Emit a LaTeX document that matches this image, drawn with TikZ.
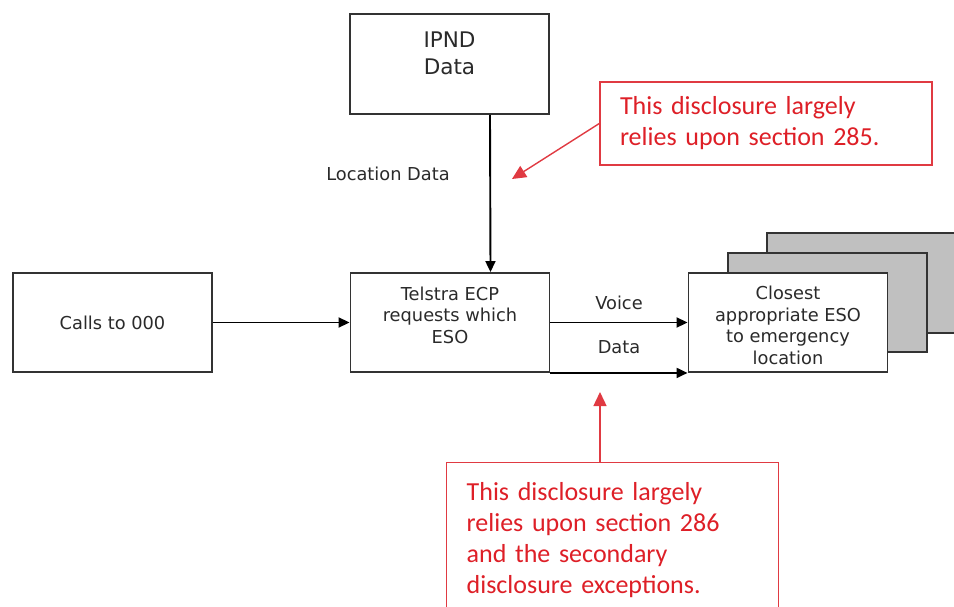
\documentclass[tikz,border=0pt]{standalone}
\usepackage{fontspec}
\setmainfont{DejaVu Sans}
\newfontfamily\redfont{Carlito}
\usetikzlibrary{arrows.meta}
\definecolor{boxline}{HTML}{333333}
\definecolor{txtgray}{HTML}{2A2A2A}
\definecolor{shade}{HTML}{C0C0C0}
\definecolor{notered}{HTML}{DE1F27}
\definecolor{noteline}{HTML}{E03A42}
\tikzset{
  box/.style={draw=boxline, line width=1.9pt, fill=white, minimum width=199pt, minimum height=99pt, inner sep=0pt},
  btext/.style={align=center, text=txtgray, font=\fontsize{17.8}{21.5}\selectfont, inner sep=0pt},
  arr/.style={draw=black, line width=1.9pt, -{Triangle[length=11pt,width=10pt]}},
  note/.style={draw=noteline, line width=1.4pt, fill=white, text=notered, align=left, text width=292pt, inner xsep=20pt, font=\redfont\fontsize{26}{31}\selectfont},
  redarr/.style={draw=noteline, line width=1.4pt, -{Triangle[length=14pt,width=13pt]}}
}
\begin{document}
\begin{tikzpicture}[x=1pt,y=-1pt]
\useasboundingbox (0,0) rectangle (954,607);
% stacked ESO boxes
\path[draw=boxline, line width=1.9pt, fill=shade] (767,233) rectangle (980,333);
\path[draw=boxline, line width=1.9pt, fill=shade] (728,253) rectangle (927,352);
% main boxes
\node[box] (calls) at (112.5,322.5) {};
\node[btext] (callstext) at (calls.center) {Calls to 000};
\node[box] (telstra) at (450,322.5) {};
\node[btext, yshift=7.5pt] (telstratext) at (telstra.center) {Telstra ECP\\requests which\\ESO};
\node[box, minimum height=100pt] (ipnd) at (449.5,64) {};
\node[btext, font=\fontsize{21.5}{27}\selectfont, yshift=10.5pt] (ipndtext) at (ipnd.center) {IPND\\Data};
\node[box] (eso) at (788,322.5) {};
\node[btext, yshift=-3pt] (esotext) at (eso.center) {Closest\\appropriate ESO\\to emergency\\location};
% connectors
\draw[arr] (calls.east) -- (telstra.west);
\draw[arr] ([xshift=40.5pt]ipnd.south) -- ([xshift=40.5pt]telstra.north);
\draw[arr] (telstra.east) -- (eso.west);
\draw[arr] (telstra.south east) -- (eso.south west);
\node[btext] (loclabel) at (388,174) {Location Data};
\node[btext] (voicelabel) at (619,303) {Voice};
\node[btext] (datalabel) at (619,347) {Data};
% notes
\node[note, minimum height=83pt] (note1) at (766,123.5) {This disclosure largely\\relies upon section 285.};
\coordinate (tip1) at (512,179);
\draw[redarr] (note1.west) -- (tip1);
\node[note, anchor=north west, inner ysep=20pt] (note2) at (446,462) {This disclosure largely\\relies upon section 286\\and the secondary\\disclosure exceptions.};
\coordinate (tip2) at (600,392);
\draw[redarr] (note2.north -| tip2) -- (tip2);
\end{tikzpicture}
\end{document}
